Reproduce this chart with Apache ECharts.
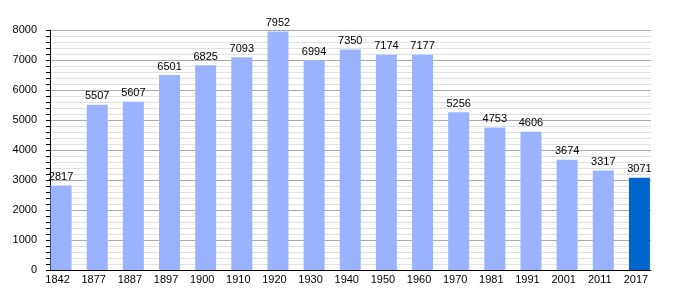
<!DOCTYPE html>
<html><head><meta charset="utf-8">
<script src="https://cdn.jsdelivr.net/npm/echarts@6/dist/echarts.min.js"></script>
<style>html,body{margin:0;padding:0;background:#fff}#c{width:680px;height:300px}</style>
</head><body><div id="c"></div>
<script>
const categories = ['1842','1877','1887','1897','1900','1910','1920','1930','1940','1950','1960','1970','1981','1991','2001','2011','2017'];
const population = [2817,5507,5607,6501,6825,7093,7952,6994,7350,7174,7177,5256,4753,4606,3674,3317,3071];
const yTicks = {min:0, max:8000, interval:1000};
const font = "'Liberation Sans', Arial, sans-serif";
const chart = echarts.init(document.getElementById('c'), null, {renderer:'canvas'});
chart.setOption({
  animation:false,
  backgroundColor:'#fff',
  grid:[
    {left:50, right:29, top:30, bottom:30},
    {left:43, right:22.5, top:30, bottom:30}
  ],
  xAxis:[
    {gridIndex:0, type:'value', min:0, max:1, z:5,
     axisLine:{show:true, lineStyle:{color:'#000', width:1}},
     axisTick:{show:false}, axisLabel:{show:false}, splitLine:{show:false}},
    {gridIndex:1, type:'category', data:categories,
     axisLine:{show:false}, axisTick:{show:false}, splitLine:{show:false},
     axisLabel:{color:'#000', fontSize:11, fontFamily:font, margin:4, padding:[0,7,0,0], interval:0}}
  ],
  yAxis:[
    {gridIndex:0, type:'value', min:yTicks.min, max:yTicks.max, interval:yTicks.interval,
     axisLine:{show:true, lineStyle:{color:'#000', width:1}},
     axisTick:{show:true, length:4, lineStyle:{color:'#000'}},
     minorTick:{show:true, splitNumber:5, length:4, lineStyle:{color:'#000'}},
     axisLabel:{color:'#000', fontSize:11, fontFamily:font, margin:13, formatter:(v)=>String(v)},
     splitLine:{show:true, lineStyle:{color:'#aaaaaa', width:1}},
     minorSplitLine:{show:true, lineStyle:{color:'#e0e0e0', width:1}}},
    {gridIndex:1, type:'value', min:yTicks.min, max:yTicks.max, show:false, splitLine:{show:false}}
  ],
  series:[
    {type:'scatter', xAxisIndex:0, yAxisIndex:0, data:[], silent:true},
    {type:'bar', xAxisIndex:1, yAxisIndex:1, barWidth:21,
     data: population.map((v,i)=> i===population.length-1 ? {value:v, itemStyle:{color:'#0066cc'}} : v),
     itemStyle:{color:'#99b3ff'},
     label:{show:true, position:'top', distance:3, color:'#000', fontSize:11, fontFamily:font}}
  ]
});
</script></body></html>
